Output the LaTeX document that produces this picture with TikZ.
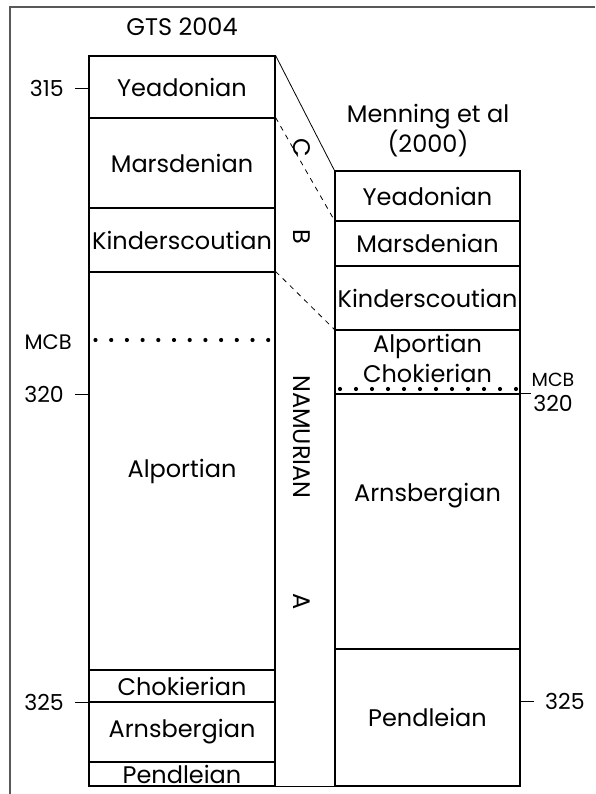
\documentclass[tikz,border=0pt]{standalone}
\usepackage{fontspec}
\setmainfont{Poppins}
\usetikzlibrary{positioning}
\newcommand{\stagefont}{\fontsize{24}{30}\selectfont}
\newcommand{\tickfont}{\fontsize{22}{25}\selectfont}
\tikzset{
	stagenode/.style={rectangle, draw=black, line width=1.1pt, inner sep=0pt, font=\stagefont},
	leftnode/.style={stagenode, minimum width=186pt},
	rightnode/.style={stagenode, minimum width=185pt},
	ticknode/.style={font=\tickfont, inner sep=0pt},
	mcbdots/.style={line width=4.2pt, line cap=round, dash pattern=on 0pt off 15.7pt}
}

\begin{document}
\begin{tikzpicture}[x=1pt,y=-1pt]
	\useasboundingbox (0,0) rectangle (595,794);
	\draw[gray!70!black, line width=2pt] (595,7) -- (10,7) -- (10,794);
	
	% GTS 2004 column
	\node[font=\stagefont] at (182,27) (gts) {GTS 2004};
	\node[leftnode, minimum height=62pt] at (182,87) (yeaL) {Yeadonian};
	\node[leftnode, minimum height=90pt] at (182,163) (marL) {Marsdenian};
	\node[leftnode, minimum height=64pt] at (182,240) (kinL) {Kinderscoutian};
	\node[leftnode, minimum height=398pt] at (182,471) (alpL) {Alportian};
	\node[leftnode, minimum height=32pt] at (182,686) (choL) {Chokierian};
	\node[leftnode, minimum height=60pt] at (182,732) (arnL) {Arnsbergian};
	\node[leftnode, minimum height=24pt] at (182,774) (penL) {Pendleian};
	
	% Menning et al column
	\node[font=\stagefont, align=center] at (428,131) (men) {Menning et al\\(2000)};
	\node[rightnode, minimum height=50pt] at (427.5,196) (yeaR) {Yeadonian};
	\node[rightnode, minimum height=45pt] at (427.5,243.5) (marR) {Marsdenian};
	\node[rightnode, minimum height=64pt] at (427.5,298) (kinR) {Kinderscoutian};
	\node[rightnode, minimum height=64pt, label={[font=\stagefont, align=center, yshift=4pt]center:Alportian\\Chokierian}] at (427.5,362) (alcR) {};
	\node[rightnode, minimum height=255pt, label={[font=\stagefont, yshift=26pt]center:Arnsbergian}] at (427.5,521.5) (arnR) {};
	\node[rightnode, minimum height=137pt] at (427.5,717.5) (penR) {Pendleian};
	\draw[line width=1.8pt] (yeaR.north west) -- (penR.south west);
	\draw[line width=1.1pt] (penL.south west) -- (penR.south east);
	
	% correlation lines
	\draw[line width=0.8pt] (yeaL.north east) -- (yeaR.north west);
	\draw[line width=0.8pt, dash pattern=on 5pt off 5pt] (marL.north east) -- (marR.north west);
	\draw[line width=0.8pt, dash pattern=on 5pt off 5pt] (alpL.north east) -- (alcR.north west);
	
	\node[font=\stagefont, rotate=-90] at (302,148) (c) {C};
	\node[font=\stagefont, rotate=-90] at (302,237) (b) {B};
	\node[font=\stagefont, rotate=-90] at (302,437) (nam) {NAMURIAN};
	\node[font=\stagefont, rotate=-90] at (302,602) (a) {A};
	
	% ages
	\node[ticknode, anchor=east] at (64,88) (t315) {315};
	\node[ticknode, anchor=east] at (64,394) (t320) {320};
	\node[ticknode, anchor=east] at (64,702) (t325) {325};
	\node[ticknode, anchor=east, font=\fontsize{21}{24}\selectfont] at (72,342) (mcbL) {MCB};
	\draw[line width=0.8pt, shorten <=11pt] (t315.east) -- (t315.east -| yeaL.west);
	\draw[line width=0.8pt, shorten <=11pt] (t320.east) -- (t320.east -| alpL.west);
	\draw[line width=0.8pt, shorten <=11pt] (t325.east) -- (t325.east -| arnL.west);
	\node[ticknode, anchor=west] at (545,701) (r325) {325};
	\node[ticknode, align=center] at (553,392) (r320) {{\fontsize{19}{20}\selectfont MCB}\\320};
	\draw[line width=0.8pt, shorten <=11pt] (r325.west) -- (r325.west -| penR.east);
	\draw[line width=0.8pt] (arnR.north east) -- (arnR.north east -| r320.west);
	
	%\node[fit=(alpL)(choL),draw,dotted] {};
	\draw[mcbdots] (95.5,340) -- (269,340);
	\draw[mcbdots, dash pattern=on 0pt off 16pt] (340,389) -- (517,389);
\end{tikzpicture}
\end{document}
